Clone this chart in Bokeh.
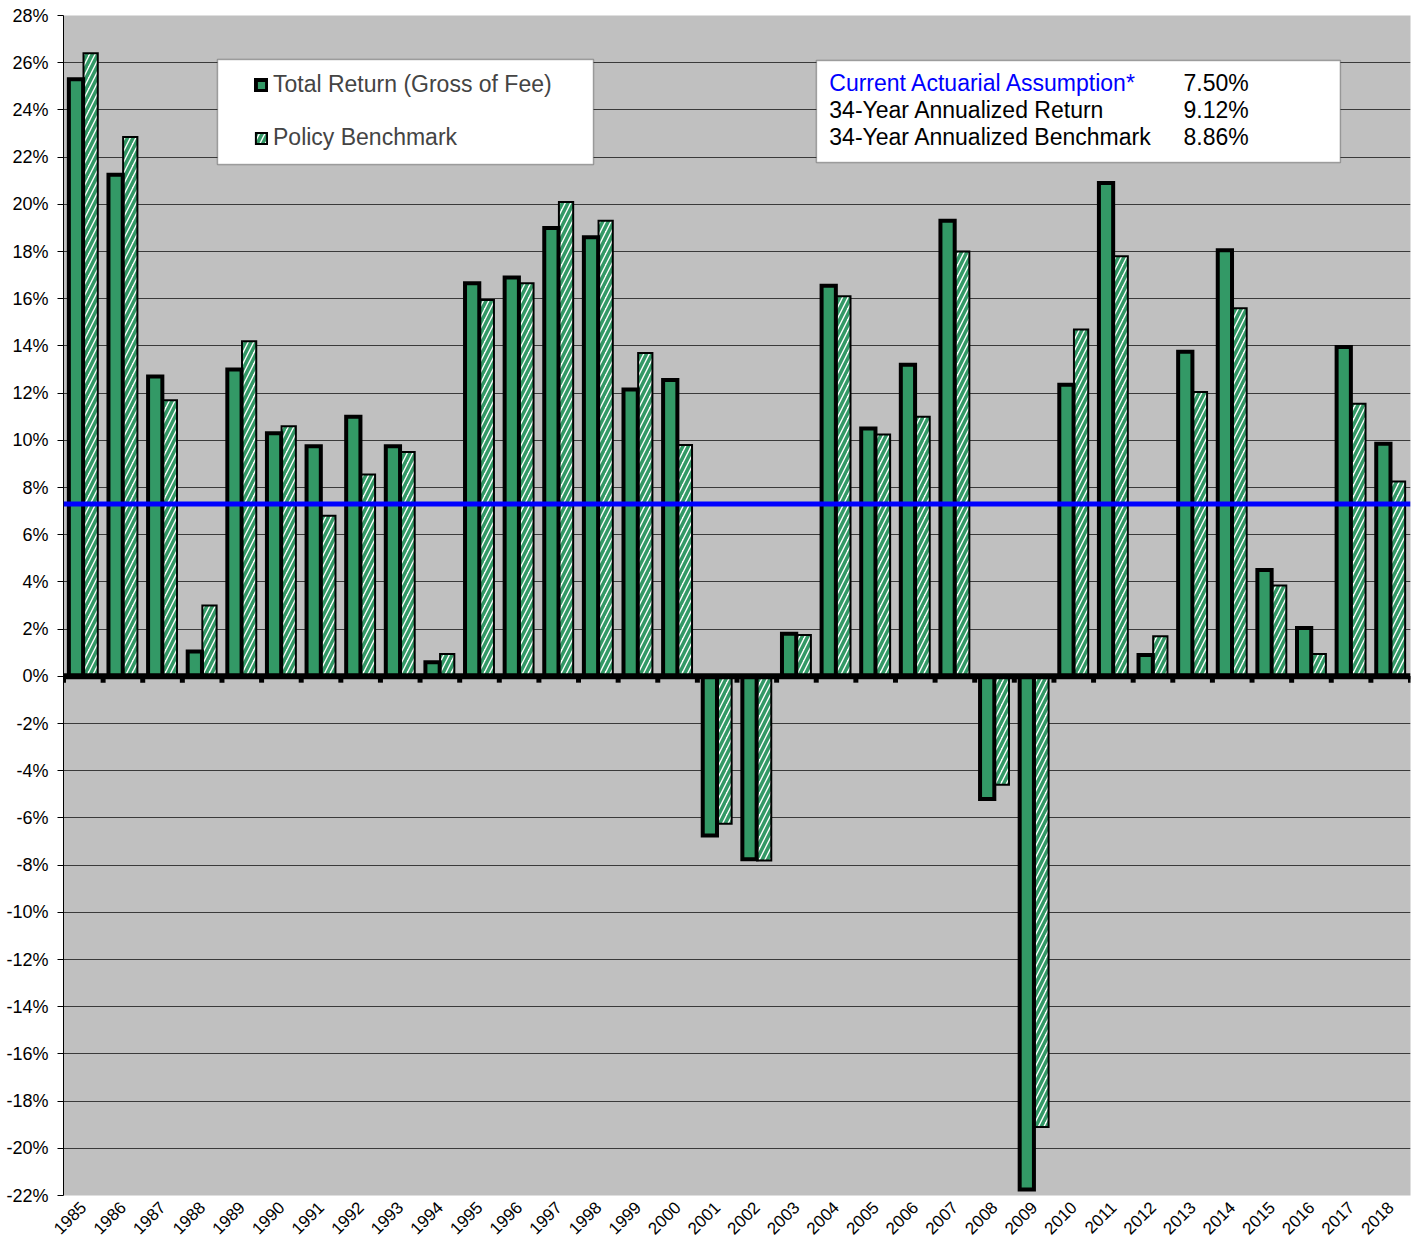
import numpy as np
from bokeh.plotting import figure
from bokeh.models import (ColumnDataSource, FixedTicker, Span, BoxAnnotation,
                          Legend, LegendItem, Range1d)
from bokeh.transform import dodge
from bokeh.core.properties import value
from bokeh.embed import file_html
from bokeh.resources import INLINE

# ---------------- data ----------------
years = [str(y) for y in range(1985, 2019)]
total_return = [25.3, 21.25, 12.7, 1.05, 13.0, 10.3, 9.75, 11.0, 9.75, 0.6,
                16.65, 16.9, 19.0, 18.6, 12.15, 12.55, -6.75, -7.75, 1.8, 16.55,
                10.5, 13.2, 19.3, -5.2, -21.75, 12.35, 20.9, 0.9, 13.75, 18.05,
                4.5, 2.05, 13.95, 9.85]
policy_benchmark = [26.4, 22.85, 11.7, 3.0, 14.2, 10.6, 6.8, 8.55, 9.5, 0.95,
                    15.95, 16.65, 20.1, 19.3, 13.7, 9.8, -6.25, -7.8, 1.75, 16.1,
                    10.25, 11.0, 18.0, -4.6, -19.1, 14.7, 17.8, 1.7, 12.05, 15.6,
                    3.85, 0.95, 11.55, 8.25]
assumption_line = 7.3
y_ticks = list(range(-22, 29, 2))
stat_labels = ["Current Actuarial Assumption*", "34-Year Annualized Return",
               "34-Year Annualized Benchmark"]
stat_values = ["7.50%", "9.12%", "8.86%"]
stat_colors = ["#0000FF", "black", "black"]

FONT = "Liberation Sans"
GREEN = "#339966"

x = list(range(1, len(years) + 1))
src = ColumnDataSource(dict(x=x, tr=total_return, bm=policy_benchmark))

p = figure(frame_width=1347, frame_height=1180,
           x_range=Range1d(0.5, len(years) + 0.5), y_range=Range1d(-22, 28),
           output_backend="svg", toolbar_location=None,
           min_border_left=63, min_border_top=15, min_border_right=8,
           min_border_bottom=45)
p.background_fill_color = "#C0C0C0"
p.border_fill_color = "white"
p.outline_line_color = None

# grid
p.xgrid.visible = False
p.ygrid.ticker = FixedTicker(ticks=y_ticks)
p.ygrid.grid_line_color = "#3a3a3a"
p.ygrid.grid_line_width = 1

# y axis
p.yaxis.ticker = FixedTicker(ticks=y_ticks)
p.yaxis.major_label_overrides = {t: f"{t}%" for t in y_ticks}
p.yaxis.minor_tick_line_color = None
p.yaxis.major_tick_out = 6
p.yaxis.major_tick_in = 0
p.yaxis.axis_line_color = "black"
p.yaxis.major_tick_line_color = "black"
p.yaxis.major_label_text_font = FONT
p.yaxis.major_label_text_font_size = "18px"
p.yaxis.major_label_text_color = "black"
p.yaxis.major_label_standoff = 9

# x axis
p.xaxis.ticker = FixedTicker(ticks=x)
p.xaxis.major_label_overrides = {i: yr for i, yr in zip(x, years)}
p.xaxis.major_label_orientation = np.pi / 4
p.xaxis.axis_line_color = None
p.xaxis.major_tick_line_color = None
p.xaxis.minor_tick_line_color = None
p.xaxis.major_label_text_font = FONT
p.xaxis.major_label_text_font_size = "17px"
p.xaxis.major_label_text_color = "black"
p.xaxis.major_label_standoff = 3

# legend / stats boxes (behind text)
legend_box = BoxAnnotation(left=4.387, right=13.877, top=26.14, bottom=21.69,
                           fill_color="white", fill_alpha=1, line_color="black",
                           line_width=1.5, level="underlay")
stats_box = BoxAnnotation(left=19.505, right=32.73, top=26.09, bottom=21.77,
                          fill_color="white", fill_alpha=1, line_color="black",
                          line_width=1.5, level="underlay")
p.add_layout(legend_box)
p.add_layout(stats_box)

# bars
bm_r = p.vbar(x=dodge('x', 0.185, range=p.x_range), top='bm', width=0.36, source=src,
              fill_color="white", hatch_pattern="/", hatch_color=GREEN,
              hatch_scale=11, hatch_weight=3.6,
              line_color="black", line_width=2, line_join="miter")
tr_r = p.vbar(x=dodge('x', -0.185, range=p.x_range), top='tr', width=0.36, source=src,
              fill_color=GREEN, line_color="black", line_width=4, line_join="miter")

# zero line with category boundary ticks
bounds = [v - 0.5 for v in x] + [x[-1] + 0.5]
p.segment(x0=bounds, y0=[0] * len(bounds), x1=bounds, y1=[-0.27] * len(bounds),
          line_color="black", line_width=5)
p.add_layout(Span(location=0, dimension="width", line_color="black", line_width=6))

# actuarial assumption line
p.add_layout(Span(location=assumption_line, dimension="width",
                  line_color="#0000FF", line_width=5))

# stats text
stat_src = ColumnDataSource(dict(
    lx=[19.83] * 3, vx=[28.77] * 3, y=[25.12, 24.0, 22.87],
    lab=stat_labels, val=stat_values, col=stat_colors))
p.text(x='lx', y='y', text='lab', source=stat_src, text_color='col',
       text_font=value(FONT), text_font_size="23px", text_baseline="alphabetic")
p.text(x='vx', y='y', text='val', source=stat_src, text_color="black",
       text_font=value(FONT), text_font_size="23px", text_baseline="alphabetic")

# legend
legend = Legend(items=[LegendItem(label="Total Return (Gross of Fee)", renderers=[tr_r]),
                       LegendItem(label="Policy Benchmark", renderers=[bm_r])],
                location=(191, 1044), padding=0, margin=0,
                border_line_alpha=0, background_fill_alpha=0,
                glyph_width=14, glyph_height=14, label_standoff=5,
                label_height=26, spacing=26,
                label_text_font=FONT, label_text_font_size="23px")
p.add_layout(legend)

open("out.html", "w").write(file_html(p, INLINE))
